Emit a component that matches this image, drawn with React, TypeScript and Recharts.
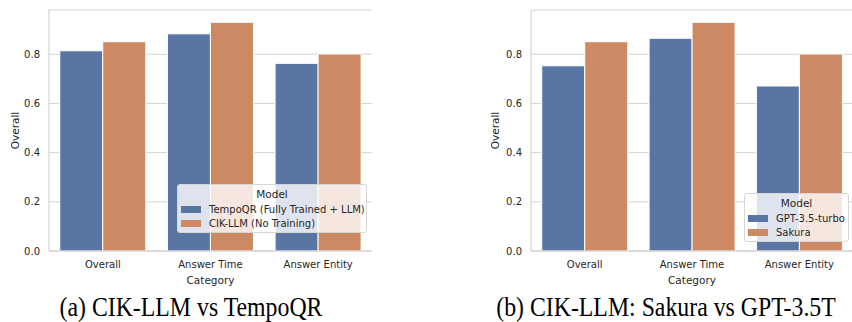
import { BarChart, Bar, XAxis, YAxis, CartesianGrid, Legend } from "recharts";

const categories = ["Overall", "Answer Time", "Answer Entity"];

// (a) CIK-LLM vs TempoQR
const tempoQR = [0.814, 0.883, 0.763];
const cikLLM = [0.851, 0.93, 0.801];

// (b) CIK-LLM: Sakura vs GPT-3.5T
const gpt35 = [0.753, 0.865, 0.671];
const sakura = [0.851, 0.93, 0.801];

const yTicks = [0, 0.2, 0.4, 0.6, 0.8];

const BLUE = "#5975a4";
const ORANGE = "#cc8963";
const FRAME = "#cccccc";
const TEXT = "#262626";
const FONT = "DejaVu Sans";

const leftData = categories.map((c, i) => ({ category: c, a: tempoQR[i], b: cikLLM[i] }));
const rightData = categories.map((c, i) => ({ category: c, a: gpt35[i], b: sakura[i] }));

const LegendBox = ({ items, width }: { items: { value: string; color: string }[]; width: number }) => (
  <div
    style={{
      position: "relative",
      width,
      height: 49,
      boxSizing: "border-box",
      background: "rgba(255,255,255,0.8)",
      border: "1px solid #d6d6d6",
      borderRadius: 3,
      fontFamily: FONT,
      color: TEXT,
    }}
  >
    <div style={{ position: "absolute", left: 0, right: 0, top: 2, textAlign: "center", fontSize: 10.5, lineHeight: "14px" }}>
      Model
    </div>
    {items.map((p, i) => (
      <div key={p.value} style={{ position: "absolute", left: 3, top: 17 + i * 14, height: 14, display: "flex", alignItems: "center" }}>
        <span style={{ display: "inline-block", width: 20, height: 7, background: p.color, marginRight: 8 }} />
        <span style={{ fontSize: 10, whiteSpace: "nowrap" }}>{p.value}</span>
      </div>
    ))}
  </div>
);

const Panel = ({
  data,
  names,
  width,
  yAxisWidth,
  marginRight,
  legendLeft,
  legendTop,
  legendWidth,
}: {
  data: any[];
  names: string[];
  width: number;
  yAxisWidth: number;
  marginRight: number;
  legendLeft: number;
  legendTop: number;
  legendWidth: number;
}) => (
  <BarChart
    width={width}
    height={300}
    data={data}
    margin={{ top: 10, right: marginRight, bottom: 0, left: 0 }}
    barCategoryGap="10%"
    barGap={0}
  >
    <CartesianGrid vertical={false} stroke="#d4d4d4" />
    <XAxis
      dataKey="category"
      height={49}
      tickLine={false}
      tickSize={0}
      tickMargin={10}
      axisLine={{ stroke: FRAME }}
      tick={{ fill: TEXT, fontSize: 10, fontFamily: FONT }}
      label={{ value: "Category", position: "insideBottom", offset: 16, fill: TEXT, fontSize: 10.5, fontFamily: FONT }}
    />
    <XAxis xAxisId="top" dataKey="category" orientation="top" height={0} tick={false} tickLine={false} axisLine={{ stroke: FRAME }} />
    <YAxis
      width={yAxisWidth}
      domain={[0, 0.98]}
      ticks={yTicks}
      tickFormatter={(v: number) => v.toFixed(1)}
      tickLine={false}
      tickSize={0}
      tickMargin={9}
      axisLine={{ stroke: FRAME }}
      tick={{ fill: TEXT, fontSize: 10, fontFamily: FONT }}
      label={{
        value: "Overall",
        angle: -90,
        position: "insideLeft",
        offset: 15,
        fill: TEXT,
        fontSize: 10.5,
        fontFamily: FONT,
        style: { textAnchor: "middle" },
      }}
    />
    <YAxis yAxisId="right" orientation="right" width={0} domain={[0, 1]} tick={false} tickLine={false} axisLine={{ stroke: FRAME }} />
    <Bar dataKey="a" name={names[0]} fill={BLUE} stroke="#ffffff" strokeWidth={1} isAnimationActive={false} />
    <Bar dataKey="b" name={names[1]} fill={ORANGE} stroke="#ffffff" strokeWidth={1} isAnimationActive={false} />
    <Legend
      layout="vertical"
      align="center"
      verticalAlign="middle"
      wrapperStyle={{ left: legendLeft, top: legendTop, width: legendWidth }}
      content={() => (
        <LegendBox
          width={legendWidth}
          items={[
            { value: names[0], color: BLUE },
            { value: names[1], color: ORANGE },
          ]}
        />
      )}
    />
  </BarChart>
);

const captionStyle: React.CSSProperties = {
  position: "absolute",
  top: 292,
  width: 400,
  height: 30,
  textAlign: "center",
  fontFamily: "Liberation Serif",
  fontSize: 28,
  lineHeight: "30px",
  color: "#000",
  whiteSpace: "nowrap",
  transform: "scaleX(0.85)",
};

export default function App() {
  return (
    <div style={{ position: "absolute", left: 0, top: 0, width: 852, height: 322, overflow: "hidden", background: "#fff" }}>
      <div style={{ position: "absolute", left: 0, top: 0 }}>
        <Panel
          data={leftData}
          names={["TempoQR (Fully Trained + LLM)", "CIK-LLM (No Training)"]}
          width={376}
          yAxisWidth={49}
          marginRight={4}
          legendLeft={177}
          legendTop={184}
          legendWidth={190}
        />
      </div>
      <div style={{ position: "absolute", left: 480, top: 0 }}>
        <Panel
          data={rightData}
          names={["GPT-3.5-turbo", "Sakura"]}
          width={375}
          yAxisWidth={51}
          marginRight={2}
          legendLeft={264}
          legendTop={193}
          legendWidth={105}
        />
      </div>
      <div style={{ ...captionStyle, left: 191 - 200 }}>(a) CIK-LLM vs TempoQR</div>
      <div style={{ ...captionStyle, left: 666 - 200 }}>(b) CIK-LLM: Sakura vs GPT-3.5T</div>
    </div>
  );
}
